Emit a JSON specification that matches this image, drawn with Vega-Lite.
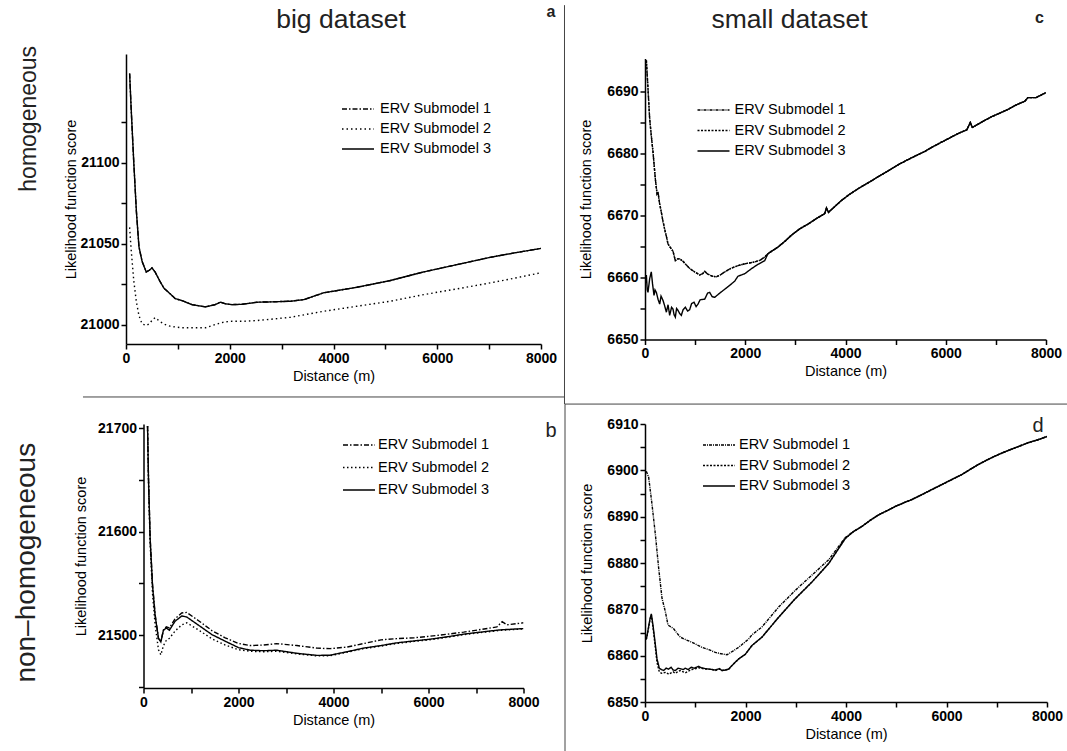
{
  "$schema": "https://vega.github.io/schema/vega-lite/v6.json",
  "autosize": {"type": "none"},
  "padding": {"left": 126, "top": 54, "right": 941, "bottom": 697},
  "background": "white",
  "config": {
    "view": {"stroke": null},
    "font": "Liberation Sans",
    "axis": {
      "domainColor": "black", "domainWidth": 1.5,
      "tickColor": "black", "tickWidth": 1.5, "tickSize": 5,
      "labelFont": "Liberation Sans", "labelFontWeight": "bold", "labelFontSize": 14, "labelColor": "black",
      "labelPadding": 2, "labelFlush": false, "labelOverlap": false, "labelBound": false,
      "titleFont": "Liberation Sans", "titleFontWeight": "normal", "titleFontSize": 14.5, "titleColor": "black",
      "grid": false
    },
    "axisX": {"encode": {"ticks": {"update": {"y2": {"signal": "datum.value % 2000 === 0 ? 5 : 3"}}}}},
    "legend": {
      "title": null, "orient": "none", "symbolType": "M-2,0H2", "symbolSize": 256,
      "symbolStrokeWidth": 1.3, "symbolStrokeColor": "black", "symbolFillColor": "transparent",
      "labelFont": "Liberation Sans", "labelFontSize": 14.5, "labelColor": "black", "labelOffset": 12,
      "rowPadding": 4
    }
  },
  "datasets": {
    "a": [
      {"d": 70, "s1": 21155, "s2": 21060, "s3": 21155},
      {"d": 100, "s1": 21133, "s2": 21046, "s3": 21133},
      {"d": 150, "s1": 21100, "s2": 21027, "s3": 21100},
      {"d": 200, "s1": 21070, "s2": 21014, "s3": 21070},
      {"d": 250, "s1": 21048, "s2": 21005.5, "s3": 21048},
      {"d": 310, "s1": 21039, "s2": 21000.4, "s3": 21039},
      {"d": 390, "s1": 21032.5, "s2": 20999.4, "s3": 21032.5},
      {"d": 450, "s1": 21033.5, "s2": 21000.5, "s3": 21033.5},
      {"d": 500, "s1": 21035, "s2": 21002.5, "s3": 21035},
      {"d": 560, "s1": 21032.5, "s2": 21004.3, "s3": 21032.5},
      {"d": 650, "s1": 21027, "s2": 21002, "s3": 21027},
      {"d": 730, "s1": 21022.5, "s2": 21000.3, "s3": 21022.5},
      {"d": 850, "s1": 21019, "s2": 20999, "s3": 21019},
      {"d": 950, "s1": 21016, "s2": 20998.5, "s3": 21016},
      {"d": 1080, "s1": 21014.8, "s2": 20998, "s3": 21014.8},
      {"d": 1270, "s1": 21012.3, "s2": 20998, "s3": 21012.3},
      {"d": 1530, "s1": 21010.9, "s2": 20998, "s3": 21010.9},
      {"d": 1720, "s1": 21012.3, "s2": 21000, "s3": 21012.3},
      {"d": 1820, "s1": 21013.8, "s2": 21001, "s3": 21013.8},
      {"d": 1920, "s1": 21012.8, "s2": 21001.7, "s3": 21012.8},
      {"d": 2040, "s1": 21012.3, "s2": 21002, "s3": 21012.3},
      {"d": 2240, "s1": 21012.5, "s2": 21002, "s3": 21012.5},
      {"d": 2530, "s1": 21013.8, "s2": 21002.5, "s3": 21013.8},
      {"d": 2800, "s1": 21014, "s2": 21003.3, "s3": 21014},
      {"d": 3170, "s1": 21014.4, "s2": 21004.5, "s3": 21014.4},
      {"d": 3430, "s1": 21015.4, "s2": 21006, "s3": 21015.4},
      {"d": 3810, "s1": 21019.6, "s2": 21008.2, "s3": 21019.6},
      {"d": 4450, "s1": 21023, "s2": 21011.3, "s3": 21023},
      {"d": 5100, "s1": 21027.2, "s2": 21014.4, "s3": 21027.2},
      {"d": 5740, "s1": 21032.5, "s2": 21018.5, "s3": 21032.5},
      {"d": 6380, "s1": 21037, "s2": 21022, "s3": 21037},
      {"d": 7020, "s1": 21041.5, "s2": 21025.7, "s3": 21041.5},
      {"d": 7500, "s1": 21044.3, "s2": 21028.7, "s3": 21044.3},
      {"d": 8000, "s1": 21047, "s2": 21032, "s3": 21047}
    ],
    "b": [
      {"d": 85, "s1": 21702, "s2": 21702, "s3": 21702},
      {"d": 105, "s1": 21652, "s2": 21648, "s3": 21651},
      {"d": 140, "s1": 21594, "s2": 21588, "s3": 21593},
      {"d": 190, "s1": 21549, "s2": 21540, "s3": 21548},
      {"d": 245, "s1": 21520, "s2": 21510, "s3": 21519},
      {"d": 315, "s1": 21497, "s2": 21486, "s3": 21497},
      {"d": 365, "s1": 21494, "s2": 21481, "s3": 21493.5},
      {"d": 420, "s1": 21505, "s2": 21490, "s3": 21504.8},
      {"d": 480, "s1": 21508, "s2": 21495, "s3": 21507},
      {"d": 545, "s1": 21507, "s2": 21497, "s3": 21504.8},
      {"d": 665, "s1": 21516, "s2": 21504, "s3": 21513.5},
      {"d": 805, "s1": 21521.5, "s2": 21510, "s3": 21518.6},
      {"d": 910, "s1": 21522, "s2": 21512, "s3": 21517.6},
      {"d": 1160, "s1": 21514, "s2": 21505, "s3": 21509.6},
      {"d": 1440, "s1": 21504.5, "s2": 21496.5, "s3": 21500.6},
      {"d": 1720, "s1": 21497.5, "s2": 21490.5, "s3": 21494.2},
      {"d": 2000, "s1": 21492, "s2": 21486, "s3": 21488},
      {"d": 2250, "s1": 21490, "s2": 21484.5, "s3": 21485.5},
      {"d": 2530, "s1": 21490.5, "s2": 21484, "s3": 21485},
      {"d": 2800, "s1": 21491.9, "s2": 21484.5, "s3": 21485.5},
      {"d": 3230, "s1": 21490, "s2": 21482, "s3": 21482.5},
      {"d": 3650, "s1": 21487.5, "s2": 21480, "s3": 21480.5},
      {"d": 3930, "s1": 21487, "s2": 21480.2, "s3": 21480.7},
      {"d": 4280, "s1": 21488.5, "s2": 21483.5, "s3": 21484},
      {"d": 4630, "s1": 21491.9, "s2": 21487, "s3": 21487.5},
      {"d": 5000, "s1": 21495.5, "s2": 21489.5, "s3": 21490},
      {"d": 5330, "s1": 21496.7, "s2": 21492, "s3": 21492.6},
      {"d": 5700, "s1": 21497.5, "s2": 21494, "s3": 21494.5},
      {"d": 6030, "s1": 21499, "s2": 21495.6, "s3": 21496.1},
      {"d": 6400, "s1": 21501, "s2": 21498, "s3": 21498.5},
      {"d": 6740, "s1": 21503, "s2": 21500.5, "s3": 21501},
      {"d": 7100, "s1": 21505.5, "s2": 21502.5, "s3": 21503},
      {"d": 7440, "s1": 21508, "s2": 21504.3, "s3": 21504.8},
      {"d": 7550, "s1": 21513, "s2": 21504.8, "s3": 21505.3},
      {"d": 7650, "s1": 21510, "s2": 21505, "s3": 21505.5},
      {"d": 8000, "s1": 21512, "s2": 21506, "s3": 21506.4}
    ],
    "c": [
      {"d": 27, "s1": 6695, "s2": 6695},
      {"d": 60, "s1": 6690.4, "s2": 6690.4},
      {"d": 93, "s1": 6685.6, "s2": 6685.6},
      {"d": 130, "s1": 6682.5, "s2": 6682.5},
      {"d": 160, "s1": 6680.2, "s2": 6680.2},
      {"d": 206, "s1": 6675.9, "s2": 6675.9},
      {"d": 240, "s1": 6673.5, "s2": 6673.5},
      {"d": 259, "s1": 6673.8, "s2": 6673.8},
      {"d": 290, "s1": 6672, "s2": 6672},
      {"d": 326, "s1": 6670.5, "s2": 6670.5},
      {"d": 360, "s1": 6669, "s2": 6669},
      {"d": 392, "s1": 6667.8, "s2": 6667.8},
      {"d": 430, "s1": 6666.5, "s2": 6666.5},
      {"d": 459, "s1": 6665.4, "s2": 6665.4},
      {"d": 490, "s1": 6665, "s2": 6665},
      {"d": 526, "s1": 6664.6, "s2": 6664.6},
      {"d": 560, "s1": 6664.2, "s2": 6664.2},
      {"d": 605, "s1": 6662.7, "s2": 6662.7},
      {"d": 650, "s1": 6663, "s2": 6663},
      {"d": 692, "s1": 6663, "s2": 6663},
      {"d": 760, "s1": 6662.6, "s2": 6662.6},
      {"d": 825, "s1": 6662, "s2": 6662},
      {"d": 900, "s1": 6661.4, "s2": 6661.4},
      {"d": 991, "s1": 6660.9, "s2": 6660.9},
      {"d": 1091, "s1": 6660.4, "s2": 6660.4},
      {"d": 1150, "s1": 6660.6, "s2": 6660.6},
      {"d": 1191, "s1": 6661, "s2": 6661},
      {"d": 1240, "s1": 6660.6, "s2": 6660.6},
      {"d": 1290, "s1": 6660.4, "s2": 6660.4},
      {"d": 1350, "s1": 6660.2, "s2": 6660.2},
      {"d": 1423, "s1": 6660.1, "s2": 6660.1},
      {"d": 1500, "s1": 6660.4, "s2": 6660.4},
      {"d": 1590, "s1": 6660.9, "s2": 6660.9},
      {"d": 1722, "s1": 6661.5, "s2": 6661.5},
      {"d": 1855, "s1": 6661.9, "s2": 6661.9},
      {"d": 1989, "s1": 6662.2, "s2": 6662.2},
      {"d": 2188, "s1": 6662.5, "s2": 6662.5},
      {"d": 2300, "s1": 6662.8, "s2": 6662.8},
      {"d": 2388, "s1": 6663.3, "s2": 6663.3},
      {"d": 0, "s3": 6658.7},
      {"d": 27, "s3": 6660.4},
      {"d": 45, "s3": 6658},
      {"d": 60, "s3": 6657.6},
      {"d": 93, "s3": 6659.8},
      {"d": 126, "s3": 6660.9},
      {"d": 150, "s3": 6659},
      {"d": 180, "s3": 6657.1},
      {"d": 200, "s3": 6658},
      {"d": 226, "s3": 6657.6},
      {"d": 260, "s3": 6656.5},
      {"d": 293, "s3": 6655.7},
      {"d": 320, "s3": 6657},
      {"d": 359, "s3": 6656.3},
      {"d": 390, "s3": 6655.5},
      {"d": 426, "s3": 6654.4},
      {"d": 460, "s3": 6655.6},
      {"d": 492, "s3": 6653.9},
      {"d": 530, "s3": 6655.2},
      {"d": 559, "s3": 6654.9},
      {"d": 580, "s3": 6654},
      {"d": 605, "s3": 6653.6},
      {"d": 630, "s3": 6655},
      {"d": 658, "s3": 6654.7},
      {"d": 690, "s3": 6654.2},
      {"d": 725, "s3": 6653.9},
      {"d": 760, "s3": 6654.8},
      {"d": 805, "s3": 6655.2},
      {"d": 850, "s3": 6654.6},
      {"d": 891, "s3": 6654.8},
      {"d": 930, "s3": 6655.8},
      {"d": 978, "s3": 6656},
      {"d": 1020, "s3": 6655.3},
      {"d": 1057, "s3": 6655.7},
      {"d": 1100, "s3": 6656.4},
      {"d": 1191, "s3": 6656.5},
      {"d": 1250, "s3": 6657.5},
      {"d": 1290, "s3": 6657.6},
      {"d": 1340, "s3": 6656.9},
      {"d": 1390, "s3": 6656.8},
      {"d": 1480, "s3": 6657.4},
      {"d": 1590, "s3": 6658.1},
      {"d": 1700, "s3": 6658.8},
      {"d": 1789, "s3": 6659.4},
      {"d": 1855, "s3": 6660.2},
      {"d": 1989, "s3": 6660.6},
      {"d": 2121, "s3": 6661.4},
      {"d": 2250, "s3": 6662.1},
      {"d": 2388, "s3": 6662.7},
      {"d": 2450, "s1": 6663.8, "s2": 6663.8, "s3": 6663.8},
      {"d": 2520, "s1": 6664.2, "s2": 6664.2, "s3": 6664.2},
      {"d": 2653, "s1": 6664.9, "s2": 6664.9, "s3": 6664.9},
      {"d": 2800, "s1": 6665.9, "s2": 6665.9, "s3": 6665.9},
      {"d": 2919, "s1": 6666.8, "s2": 6666.8, "s3": 6666.8},
      {"d": 3080, "s1": 6667.8, "s2": 6667.8, "s3": 6667.8},
      {"d": 3252, "s1": 6668.6, "s2": 6668.6, "s3": 6668.6},
      {"d": 3420, "s1": 6669.5, "s2": 6669.5, "s3": 6669.5},
      {"d": 3585, "s1": 6670.3, "s2": 6670.3, "s3": 6670.3},
      {"d": 3620, "s1": 6671.2, "s2": 6671.2, "s3": 6671.2},
      {"d": 3660, "s1": 6670.5, "s2": 6670.5, "s3": 6670.5},
      {"d": 3917, "s1": 6672.4, "s2": 6672.4, "s3": 6672.4},
      {"d": 4080, "s1": 6673.4, "s2": 6673.4, "s3": 6673.4},
      {"d": 4250, "s1": 6674.3, "s2": 6674.3, "s3": 6674.3},
      {"d": 4420, "s1": 6675.1, "s2": 6675.1, "s3": 6675.1},
      {"d": 4582, "s1": 6675.9, "s2": 6675.9, "s3": 6675.9},
      {"d": 4750, "s1": 6676.7, "s2": 6676.7, "s3": 6676.7},
      {"d": 4914, "s1": 6677.5, "s2": 6677.5, "s3": 6677.5},
      {"d": 5080, "s1": 6678.3, "s2": 6678.3, "s3": 6678.3},
      {"d": 5247, "s1": 6679, "s2": 6679, "s3": 6679},
      {"d": 5420, "s1": 6679.7, "s2": 6679.7, "s3": 6679.7},
      {"d": 5580, "s1": 6680.3, "s2": 6680.3, "s3": 6680.3},
      {"d": 5750, "s1": 6681.1, "s2": 6681.1, "s3": 6681.1},
      {"d": 5912, "s1": 6681.8, "s2": 6681.8, "s3": 6681.8},
      {"d": 6080, "s1": 6682.5, "s2": 6682.5, "s3": 6682.5},
      {"d": 6244, "s1": 6683.2, "s2": 6683.2, "s3": 6683.2},
      {"d": 6420, "s1": 6683.8, "s2": 6683.8, "s3": 6683.8},
      {"d": 6490, "s1": 6685, "s2": 6685, "s3": 6685},
      {"d": 6530, "s1": 6684.2, "s2": 6684.2, "s3": 6684.2},
      {"d": 6750, "s1": 6685.2, "s2": 6685.2, "s3": 6685.2},
      {"d": 6909, "s1": 6685.9, "s2": 6685.9, "s3": 6685.9},
      {"d": 7080, "s1": 6686.5, "s2": 6686.5, "s3": 6686.5},
      {"d": 7242, "s1": 6687.1, "s2": 6687.1, "s3": 6687.1},
      {"d": 7400, "s1": 6687.8, "s2": 6687.8, "s3": 6687.8},
      {"d": 7575, "s1": 6688.4, "s2": 6688.4, "s3": 6688.4},
      {"d": 7640, "s1": 6689, "s2": 6689, "s3": 6689},
      {"d": 7800, "s1": 6689, "s2": 6689, "s3": 6689},
      {"d": 8000, "s1": 6689.8, "s2": 6689.8, "s3": 6689.8}
    ],
    "d": [
      {"d": 26, "s1": 6899.8},
      {"d": 73, "s1": 6898.5},
      {"d": 139, "s1": 6892.7},
      {"d": 206, "s1": 6886.2},
      {"d": 272, "s1": 6878.9},
      {"d": 338, "s1": 6872.4},
      {"d": 405, "s1": 6869.5},
      {"d": 458, "s1": 6866.6},
      {"d": 520, "s1": 6866.2},
      {"d": 571, "s1": 6865.8},
      {"d": 640, "s1": 6864.8},
      {"d": 703, "s1": 6864},
      {"d": 820, "s1": 6863.4},
      {"d": 935, "s1": 6862.9},
      {"d": 1134, "s1": 6861.8},
      {"d": 1270, "s1": 6861.3},
      {"d": 1400, "s1": 6860.7},
      {"d": 1520, "s1": 6860.4},
      {"d": 1632, "s1": 6860.2},
      {"d": 1750, "s1": 6861},
      {"d": 1865, "s1": 6861.8},
      {"d": 2063, "s1": 6863.6},
      {"d": 2129, "s1": 6864.5},
      {"d": 2328, "s1": 6866.2},
      {"d": 2660, "s1": 6870.5},
      {"d": 2991, "s1": 6874.1},
      {"d": 3323, "s1": 6877.4},
      {"d": 3656, "s1": 6880.7},
      {"d": 3986, "s1": 6885.5},
      {"d": 26, "s2": 6863.5, "s3": 6863.5},
      {"d": 60, "s2": 6865.3, "s3": 6865.5},
      {"d": 100, "s2": 6867.8, "s3": 6868},
      {"d": 126, "s2": 6868.8, "s3": 6869},
      {"d": 160, "s2": 6866, "s3": 6866.5},
      {"d": 193, "s2": 6863, "s3": 6863.6},
      {"d": 239, "s2": 6858.5, "s3": 6859.3},
      {"d": 285, "s2": 6856.5, "s3": 6857.3},
      {"d": 330, "s2": 6856.2, "s3": 6857},
      {"d": 371, "s2": 6856.3, "s3": 6856.8},
      {"d": 420, "s2": 6856.4, "s3": 6857.3},
      {"d": 471, "s2": 6856, "s3": 6857.1},
      {"d": 520, "s2": 6856.3, "s3": 6857.5},
      {"d": 560, "s2": 6856.5, "s3": 6856.9},
      {"d": 604, "s2": 6856.2, "s3": 6856.8},
      {"d": 660, "s2": 6856.6, "s3": 6857.3},
      {"d": 700, "s2": 6856.8, "s3": 6857.2},
      {"d": 760, "s2": 6856.5, "s3": 6857},
      {"d": 802, "s2": 6856.3, "s3": 6857.3},
      {"d": 860, "s2": 6856.6, "s3": 6857},
      {"d": 920, "s2": 6857, "s3": 6857.5},
      {"d": 980, "s2": 6857.1, "s3": 6857.3},
      {"d": 1068, "s2": 6857.4, "s3": 6857.7},
      {"d": 1120, "s2": 6857.3, "s3": 6857.4},
      {"d": 1200, "s2": 6857.1, "s3": 6857.2},
      {"d": 1267, "s2": 6857.1, "s3": 6857.1},
      {"d": 1340, "s2": 6857, "s3": 6857},
      {"d": 1400, "s2": 6856.8, "s3": 6856.9},
      {"d": 1480, "s2": 6857.1, "s3": 6857.2},
      {"d": 1532, "s2": 6856.8, "s3": 6856.8},
      {"d": 1600, "s2": 6856.9, "s3": 6856.9},
      {"d": 1666, "s2": 6857.1, "s3": 6857.1},
      {"d": 1760, "s2": 6858.2, "s3": 6858.2},
      {"d": 1865, "s2": 6859.3, "s3": 6859.3},
      {"d": 1996, "s2": 6860.3, "s3": 6860.3},
      {"d": 2129, "s2": 6862.2, "s3": 6862.2},
      {"d": 2328, "s2": 6864, "s3": 6864},
      {"d": 2660, "s2": 6868.3, "s3": 6868.3},
      {"d": 2991, "s2": 6872.3, "s3": 6872.3},
      {"d": 3323, "s2": 6875.9, "s3": 6875.9},
      {"d": 3656, "s2": 6879.9, "s3": 6879.9},
      {"d": 3986, "s2": 6885.3, "s3": 6885.3},
      {"d": 4150, "s1": 6886.8, "s2": 6886.8, "s3": 6886.8},
      {"d": 4318, "s1": 6887.9, "s2": 6887.9, "s3": 6887.9},
      {"d": 4480, "s1": 6889.2, "s2": 6889.2, "s3": 6889.2},
      {"d": 4650, "s1": 6890.4, "s2": 6890.4, "s3": 6890.4},
      {"d": 4820, "s1": 6891.3, "s2": 6891.3, "s3": 6891.3},
      {"d": 4981, "s1": 6892.2, "s2": 6892.2, "s3": 6892.2},
      {"d": 5150, "s1": 6893, "s2": 6893, "s3": 6893},
      {"d": 5313, "s1": 6893.7, "s2": 6893.7, "s3": 6893.7},
      {"d": 5480, "s1": 6894.6, "s2": 6894.6, "s3": 6894.6},
      {"d": 5646, "s1": 6895.5, "s2": 6895.5, "s3": 6895.5},
      {"d": 5810, "s1": 6896.4, "s2": 6896.4, "s3": 6896.4},
      {"d": 5976, "s1": 6897.3, "s2": 6897.3, "s3": 6897.3},
      {"d": 6140, "s1": 6898.2, "s2": 6898.2, "s3": 6898.2},
      {"d": 6308, "s1": 6899.1, "s2": 6899.1, "s3": 6899.1},
      {"d": 6470, "s1": 6900.2, "s2": 6900.2, "s3": 6900.2},
      {"d": 6640, "s1": 6901.3, "s2": 6901.3, "s3": 6901.3},
      {"d": 6800, "s1": 6902.2, "s2": 6902.2, "s3": 6902.2},
      {"d": 6971, "s1": 6903.1, "s2": 6903.1, "s3": 6903.1},
      {"d": 7140, "s1": 6903.9, "s2": 6903.9, "s3": 6903.9},
      {"d": 7303, "s1": 6904.6, "s2": 6904.6, "s3": 6904.6},
      {"d": 7470, "s1": 6905.3, "s2": 6905.3, "s3": 6905.3},
      {"d": 7636, "s1": 6906, "s2": 6906, "s3": 6906},
      {"d": 7820, "s1": 6906.6, "s2": 6906.6, "s3": 6906.6},
      {"d": 8000, "s1": 6907.3, "s2": 6907.3, "s3": 6907.3}
    ]
  },
  "columns": 2,
  "bounds": "flush",
  "center": true,
  "spacing": {"row": 80, "column": 104},
  "resolve": {"scale": {"strokeDash": "independent"}, "legend": {"strokeDash": "independent"}},
  "concat": [
    {
      "width": 415, "height": 290,
      "resolve": {"axis": {"x": "independent", "y": "independent"}},
      "layer": [
        {
          "data": {"name": "a"},
          "transform": [{"fold": ["s1", "s2", "s3"], "as": ["m", "v"]}, {"filter": "isValid(datum.v)"}],
          "mark": {"type": "line", "clip": true, "strokeWidth": 1.4, "color": "black"},
          "encoding": {
            "x": {"field": "d", "type": "quantitative", "scale": {"domain": [0, 8000], "nice": false, "zero": false},
                  "axis": {"title": "Distance (m)", "values": [0, 1000, 2000, 3000, 4000, 5000, 6000, 7000, 8000], "labelExpr": "datum.value % 2000 === 0 ? datum.label : ''", "format": "d", "titlePadding": 4}},
            "y": {"field": "v", "type": "quantitative", "scale": {"domain": [20988, 21167], "nice": false, "zero": false},
                  "axis": {"title": "Likelihood function score", "values": [21000, 21025, 21050, 21075, 21100, 21125], "labelExpr": "datum.value % 50 === 0 ? datum.label : ''", "format": "d", "titlePadding": 2,
                           "encode": {"ticks": {"update": {"x2": {"signal": "datum.value % 50 === 0 ? -5 : -3"}}}}}},
            "strokeDash": {"field": "m", "type": "nominal",
                  "scale": {"domain": ["s1", "s2", "s3"], "range": [[5, 2, 1.5, 2], [1.5, 3], [1, 0]]},
                  "legend": {"legendX": 223, "legendY": 46, "labelOffset": 13, "labelExpr": "'ERV Submodel ' + substring(datum.label, 1)"}}
          }
        },
        {
          "data": {"values": [{}]},
          "mark": {"type": "text", "text": "big dataset", "fontSize": 26.5, "color": "#222", "clip": false, "baseline": "middle", "align": "center"},
          "encoding": {
            "x": {"datum": 4145, "type": "quantitative", "axis": null, "scale": {"domain": [0, 8000], "nice": false, "zero": false}},
            "y": {"datum": 21188, "type": "quantitative", "axis": null, "scale": {"domain": [20988, 21167], "nice": false, "zero": false}}
          }
        },
        {
          "data": {"values": [{}]},
          "mark": {"type": "text", "text": "a", "fontSize": 16, "fontWeight": "bold", "color": "#222", "clip": false, "baseline": "middle", "align": "center"},
          "encoding": {
            "x": {"datum": 8193, "type": "quantitative", "axis": null, "scale": {"domain": [0, 8000], "nice": false, "zero": false}},
            "y": {"datum": 21193, "type": "quantitative", "axis": null, "scale": {"domain": [20988, 21167], "nice": false, "zero": false}}
          }
        },
        {
          "data": {"values": [{}]},
          "mark": {"type": "text", "text": "homogeneous", "fontSize": 23, "angle": 270, "color": "#222", "clip": false, "baseline": "middle", "align": "center"},
          "encoding": {
            "x": {"datum": -1870, "type": "quantitative", "axis": null, "scale": {"domain": [0, 8000], "nice": false, "zero": false}},
            "y": {"datum": 21127, "type": "quantitative", "axis": null, "scale": {"domain": [20988, 21167], "nice": false, "zero": false}}
          }
        }
      ]
    },
    {
      "width": 401, "height": 281,
      "resolve": {"axis": {"x": "independent", "y": "independent"}},
      "layer": [
        {
          "data": {"name": "c"},
          "transform": [{"fold": ["s1", "s2", "s3"], "as": ["m", "v"]}, {"filter": "isValid(datum.v)"}],
          "mark": {"type": "line", "clip": true, "strokeWidth": 1.4, "color": "black"},
          "encoding": {
            "x": {"field": "d", "type": "quantitative", "scale": {"domain": [0, 8000], "nice": false, "zero": false},
                  "axis": {"title": "Distance (m)", "values": [0, 1000, 2000, 3000, 4000, 5000, 6000, 7000, 8000], "labelExpr": "datum.value % 2000 === 0 ? datum.label : ''", "format": "d", "titlePadding": 4}},
            "y": {"field": "v", "type": "quantitative", "scale": {"domain": [6650, 6695.3], "nice": false, "zero": false},
                  "axis": {"title": "Likelihood function score", "values": [6650, 6655, 6660, 6665, 6670, 6675, 6680, 6685, 6690], "labelExpr": "datum.value % 10 === 0 ? datum.label : ''", "format": "d", "titlePadding": 13,
                           "encode": {"ticks": {"update": {"x2": {"signal": "datum.value % 10 === 0 ? -5 : -3"}}}}}},
            "strokeDash": {"field": "m", "type": "nominal",
                  "scale": {"domain": ["s1", "s2", "s3"], "range": [[3, 1, 1, 1], [2, 1.5], [1, 0]]},
                  "legend": {"legendX": 59.5, "legendY": 42.5, "rowPadding": 4.5, "labelOffset": 12, "labelExpr": "'ERV Submodel ' + substring(datum.label, 1)"}}
          }
        },
        {
          "data": {"values": [{}]},
          "mark": {"type": "text", "text": "small dataset", "fontSize": 26.5, "color": "#222", "clip": false, "baseline": "middle", "align": "center"},
          "encoding": {
            "x": {"datum": 2883, "type": "quantitative", "axis": null, "scale": {"domain": [0, 8000], "nice": false, "zero": false}},
            "y": {"datum": 6701.5, "type": "quantitative", "axis": null, "scale": {"domain": [6650, 6695.3], "nice": false, "zero": false}}
          }
        },
        {
          "data": {"values": [{}]},
          "mark": {"type": "text", "text": "c", "fontSize": 16, "fontWeight": "bold", "color": "#222", "clip": false, "baseline": "middle", "align": "center"},
          "encoding": {
            "x": {"datum": 7870, "type": "quantitative", "axis": null, "scale": {"domain": [0, 8000], "nice": false, "zero": false}},
            "y": {"datum": 6701.8, "type": "quantitative", "axis": null, "scale": {"domain": [6650, 6695.3], "nice": false, "zero": false}}
          }
        },
        {
          "data": {"values": [{}]},
          "mark": {"type": "rule", "clip": false, "color": "#444", "strokeWidth": 1},
          "encoding": {
            "x": {"datum": -1606, "type": "quantitative", "axis": null, "scale": {"domain": [0, 8000], "nice": false, "zero": false}},
            "y": {"datum": 6703.9, "type": "quantitative", "axis": null, "scale": {"domain": [6650, 6695.3], "nice": false, "zero": false}},
            "y2": {"datum": 6639.6}
          }
        }
      ]
    },
    {
      "width": 380, "height": 264,
      "resolve": {"axis": {"x": "independent", "y": "independent"}},
      "layer": [
        {
          "data": {"name": "b"},
          "transform": [{"fold": ["s1", "s2", "s3"], "as": ["m", "v"]}, {"filter": "isValid(datum.v)"}],
          "mark": {"type": "line", "clip": true, "strokeWidth": 1.4, "color": "black"},
          "encoding": {
            "x": {"field": "d", "type": "quantitative", "scale": {"domain": [0, 8000], "nice": false, "zero": false},
                  "axis": {"title": "Distance (m)", "values": [0, 1000, 2000, 3000, 4000, 5000, 6000, 7000, 8000], "labelExpr": "datum.value % 2000 === 0 ? datum.label : ''", "format": "d", "titlePadding": 4}},
            "y": {"field": "v", "type": "quantitative", "scale": {"domain": [21449, 21704], "nice": false, "zero": false},
                  "axis": {"title": "Likelihood function score", "values": [21450, 21500, 21550, 21600, 21650, 21700], "labelExpr": "datum.value % 100 === 0 ? datum.label : ''", "format": "d", "titlePadding": 9,
                           "encode": {"ticks": {"update": {"x2": {"signal": "datum.value % 100 === 0 ? -5 : -3"}}}}}},
            "strokeDash": {"field": "m", "type": "nominal",
                  "scale": {"domain": ["s1", "s2", "s3"], "range": [[5, 2, 1.5, 2], [1.5, 2.5], [1, 0]]},
                  "legend": {"legendX": 206.5, "legendY": 12, "rowPadding": 6.5, "labelOffset": 10, "labelExpr": "'ERV Submodel ' + substring(datum.label, 1)"}}
          }
        },
        {
          "data": {"values": [{}]},
          "mark": {"type": "text", "text": "b", "fontSize": 20, "color": "#222", "clip": false, "baseline": "middle", "align": "center"},
          "encoding": {
            "x": {"datum": 8579, "type": "quantitative", "axis": null, "scale": {"domain": [0, 8000], "nice": false, "zero": false}},
            "y": {"datum": 21697, "type": "quantitative", "axis": null, "scale": {"domain": [21449, 21704], "nice": false, "zero": false}}
          }
        },
        {
          "data": {"values": [{}]},
          "mark": {"type": "text", "text": "non–homogeneous", "fontSize": 28, "angle": 270, "color": "#222", "clip": false, "baseline": "middle", "align": "center"},
          "encoding": {
            "x": {"datum": -2460, "type": "quantitative", "axis": null, "scale": {"domain": [0, 8000], "nice": false, "zero": false}},
            "y": {"datum": 21570, "type": "quantitative", "axis": null, "scale": {"domain": [21449, 21704], "nice": false, "zero": false}}
          }
        },
        {
          "data": {"values": [{}]},
          "mark": {"type": "rule", "clip": false, "color": "#444", "strokeWidth": 1},
          "encoding": {
            "x": {"datum": -1274, "type": "quantitative", "axis": null, "scale": {"domain": [0, 8000], "nice": false, "zero": false}},
            "x2": {"datum": 8874},
            "y": {"datum": 21730.1, "type": "quantitative", "axis": null, "scale": {"domain": [21449, 21704], "nice": false, "zero": false}}
          }
        }
      ]
    },
    {
      "width": 402, "height": 278,
      "resolve": {"axis": {"x": "independent", "y": "independent"}},
      "layer": [
        {
          "data": {"name": "d"},
          "transform": [{"fold": ["s1", "s2", "s3"], "as": ["m", "v"]}, {"filter": "isValid(datum.v)"}],
          "mark": {"type": "line", "clip": true, "strokeWidth": 1.4, "color": "black"},
          "encoding": {
            "x": {"field": "d", "type": "quantitative", "scale": {"domain": [0, 8000], "nice": false, "zero": false},
                  "axis": {"title": "Distance (m)", "values": [0, 1000, 2000, 3000, 4000, 5000, 6000, 7000, 8000], "labelExpr": "datum.value % 2000 === 0 ? datum.label : ''", "format": "d", "titlePadding": 4}},
            "y": {"field": "v", "type": "quantitative", "scale": {"domain": [6850, 6910], "nice": false, "zero": false},
                  "axis": {"title": "Likelihood function score", "values": [6850, 6855, 6860, 6865, 6870, 6875, 6880, 6885, 6890, 6895, 6900, 6905, 6910], "labelExpr": "datum.value % 10 === 0 ? datum.label : ''", "format": "d", "titlePadding": 12,
                           "encode": {"ticks": {"update": {"x2": {"signal": "datum.value % 10 === 0 ? -5 : -3"}}}}}},
            "strokeDash": {"field": "m", "type": "nominal",
                  "scale": {"domain": ["s1", "s2", "s3"], "range": [[3, 1, 1, 1], [2, 1.5], [1, 0]]},
                  "legend": {"legendX": 65, "legendY": 12, "rowPadding": 4.5, "labelOffset": 11, "labelExpr": "'ERV Submodel ' + substring(datum.label, 1)"}}
          }
        },
        {
          "data": {"values": [{}]},
          "mark": {"type": "text", "text": "d", "fontSize": 20, "color": "#222", "clip": false, "baseline": "middle", "align": "center"},
          "encoding": {
            "x": {"datum": 7821, "type": "quantitative", "axis": null, "scale": {"domain": [0, 8000], "nice": false, "zero": false}},
            "y": {"datum": 6909.6, "type": "quantitative", "axis": null, "scale": {"domain": [6850, 6910], "nice": false, "zero": false}}
          }
        },
        {
          "data": {"values": [{}]},
          "mark": {"type": "rule", "clip": false, "color": "#444", "strokeWidth": 1},
          "encoding": {
            "x": {"datum": -1592, "type": "quantitative", "axis": null, "scale": {"domain": [0, 8000], "nice": false, "zero": false}},
            "y": {"datum": 6914.3, "type": "quantitative", "axis": null, "scale": {"domain": [6850, 6910], "nice": false, "zero": false}},
            "y2": {"datum": 6839.4}
          }
        },
        {
          "data": {"values": [{}]},
          "mark": {"type": "rule", "clip": false, "color": "#444", "strokeWidth": 1},
          "encoding": {
            "x": {"datum": -1592, "type": "quantitative", "axis": null, "scale": {"domain": [0, 8000], "nice": false, "zero": false}},
            "x2": {"datum": 8398},
            "y": {"datum": 6914.3, "type": "quantitative", "axis": null, "scale": {"domain": [6850, 6910], "nice": false, "zero": false}}
          }
        }
      ]
    }
  ]
}
